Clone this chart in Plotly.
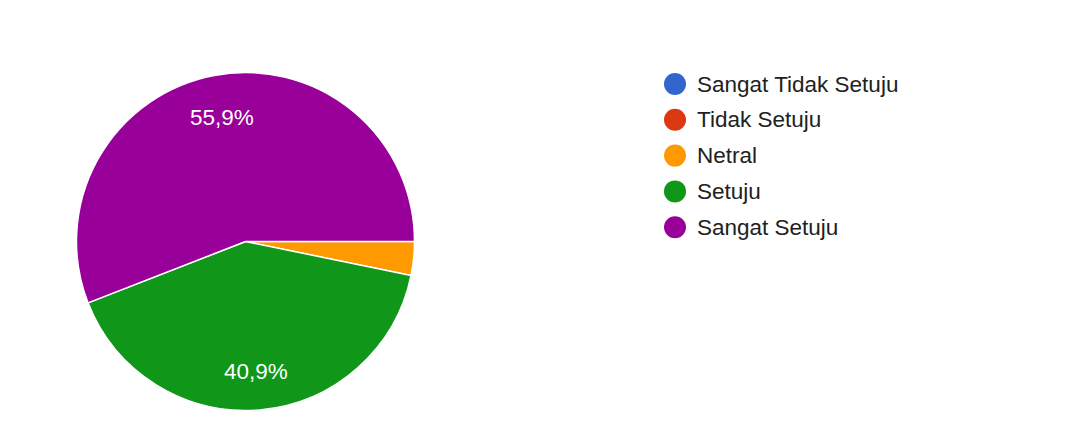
import math
import plotly.graph_objects as go

W, H = 1075, 443
OFF = 8  # page body margin offset of the rendered figure

categories = ["Sangat Tidak Setuju", "Tidak Setuju", "Netral", "Setuju", "Sangat Setuju"]
counts = [0, 0, 3, 38, 52]
colors = ["#3366cc", "#dc3912", "#ff9900", "#109618", "#990099"]
show_label = [False, False, False, True, True]

FONT = "Liberation Sans, Arial, sans-serif"

cx, cy, r = 245.5 - OFF, 241.5 - OFF, 169
fig = go.Figure()
fig.add_trace(go.Pie(
    labels=categories,
    values=counts,
    sort=False,
    direction="clockwise",
    rotation=90,
    marker=dict(colors=colors, line=dict(color="white", width=1.5)),
    textinfo="none",
    showlegend=False,
    hoverinfo="label+percent",
    domain=dict(x=[(cx - r) / W, (cx + r) / W], y=[1 - (cy + r) / H, 1 - (cy - r) / H]),
))

shapes, annos = [], []

# percentage labels placed at the slice mid-angle (Google Charts style)
total = sum(counts)
cum = 0
for v, s in zip(counts, show_label):
    frac = v / total
    mid = (cum + frac / 2) * 2 * math.pi  # clockwise from 3 o'clock
    cum += frac
    if not s:
        continue
    px = cx + math.cos(mid) * 0.76 * r
    py = cy + math.sin(mid) * 0.76 * r + 2.3
    annos.append(dict(text=f"{frac * 100:.1f}".replace(".", ",") + "%",
                      xref="paper", yref="paper", x=px / W, y=1 - py / H,
                      xanchor="center", yanchor="middle", showarrow=False,
                      font=dict(family=FONT, size=22.5, color="white")))

# legend drawn manually with circular markers
lx, ltext, ly0, dy, rad = 675 - OFF, 695 - OFF, 84 - OFF, 35.8, 11
for i, (name, col) in enumerate(zip(categories, colors)):
    yc = ly0 + i * dy
    shapes.append(dict(type="circle", xref="paper", yref="paper",
                       x0=(lx - rad) / W, x1=(lx + rad) / W,
                       y0=1 - (yc + rad) / H, y1=1 - (yc - rad) / H,
                       fillcolor=col, line=dict(width=0)))
    annos.append(dict(text=name, xref="paper", yref="paper",
                      x=ltext / W, y=1 - yc / H, xanchor="left", yanchor="middle",
                      showarrow=False, font=dict(family=FONT, size=22.5, color="#212121")))

fig.update_layout(
    width=W, height=H,
    margin=dict(l=0, r=0, t=0, b=0),
    paper_bgcolor="white",
    plot_bgcolor="white",
    separators=",.",
    shapes=shapes,
    annotations=annos,
    font=dict(family=FONT),
)

fig.write_html("out.html")
